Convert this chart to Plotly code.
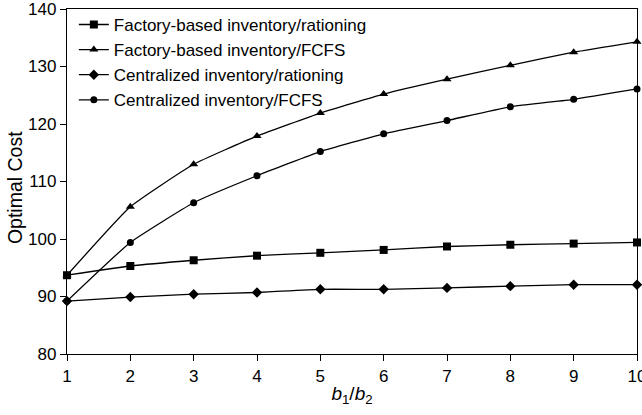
import plotly.graph_objects as go

ratio = [1, 2, 3, 4, 5, 6, 7, 8, 9, 10]
factory_rationing = [93.7, 95.3, 96.3, 97.1, 97.6, 98.1, 98.7, 99.0, 99.2, 99.4]
factory_fcfs = [93.7, 105.6, 113.0, 117.9, 121.9, 125.2, 127.8, 130.2, 132.5, 134.3]
central_rationing = [89.2, 89.9, 90.4, 90.7, 91.25, 91.25, 91.5, 91.8, 92.05, 92.05]
central_fcfs = [89.2, 99.4, 106.3, 111.0, 115.2, 118.3, 120.6, 123.0, 124.3, 126.1]

names = ["Factory-based inventory/rationing", "Factory-based inventory/FCFS",
         "Centralized inventory/rationing", "Centralized inventory/FCFS"]
series = [factory_rationing, factory_fcfs, central_rationing, central_fcfs]
symbols = ["square", "triangle-up", "diamond", "circle"]
sizes = [8, 8, 8, 7]

fig = go.Figure()
for n, s, sym, sz in zip(names, series, symbols, sizes):
    fig.add_trace(go.Scatter(
        x=ratio, y=s, name=n, mode="lines+markers",
        line=dict(color="black", width=1.3, shape="spline", smoothing=0.4),
        marker=dict(symbol=sym, size=sz, color="black"),
        cliponaxis=False,
    ))

fig.update_layout(
    width=642, height=415,
    margin=dict(l=67, r=5, t=9, b=61),
    paper_bgcolor="white", plot_bgcolor="white",
    font=dict(family="Liberation Sans, Arial, sans-serif", color="black", size=17),
    showlegend=True,
    legend=dict(x=0.012, y=1.006, xanchor="left", yanchor="top",
                bgcolor="rgba(0,0,0,0)", font=dict(size=17),
                itemwidth=30, tracegroupgap=0),
    xaxis=dict(range=[1, 10], tickmode="array", tickvals=ratio,
               automargin=False, ticklabeloverflow="allow",
               showgrid=False, zeroline=False, showline=True, linecolor="black",
               linewidth=1.3, mirror=True, ticks="outside", ticklen=6,
               tickcolor="black", tickfont=dict(size=17),
               title=dict(text="<i>b</i><sub>1</sub>/<i>b</i><sub>2</sub>",
                          font=dict(size=19), standoff=2)),
    yaxis=dict(range=[80, 140], tickvals=[80, 90, 100, 110, 120, 130, 140],
               automargin=False, ticklabeloverflow="allow",
               showgrid=False, zeroline=False, showline=True, linecolor="black",
               linewidth=1.3, mirror=True, ticks="outside", ticklen=6,
               tickcolor="black", tickfont=dict(size=17)),
    annotations=[dict(text="Optimal Cost", textangle=-90, showarrow=False,
                      xref="paper", yref="paper", x=-0.0912, y=0.481,
                      xanchor="center", yanchor="middle",
                      font=dict(size=19.5))],
)

fig.write_html("out.html", config={"displayModeBar": False},
               post_script="document.body.style.margin='0px';")
